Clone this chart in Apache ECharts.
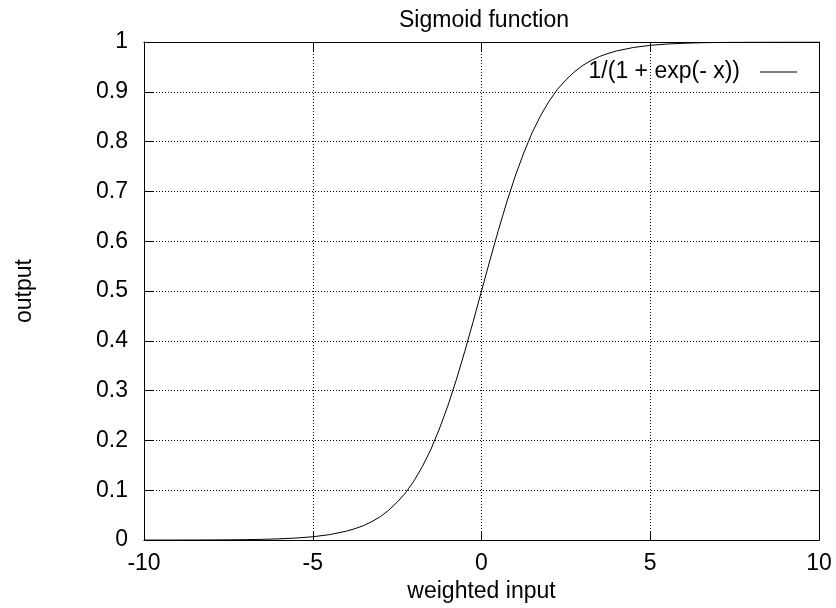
<!DOCTYPE html>
<html><head><meta charset="utf-8">
<script src="https://cdn.jsdelivr.net/npm/echarts@6/dist/echarts.min.js"></script>
<style>html,body{margin:0;padding:0;background:#fff}#c{width:836px;height:608px}</style>
</head><body><div id="c"></div>
<script>
const xValues = [-10,-9.5,-9,-8.5,-8,-7.5,-7,-6.5,-6,-5.5,-5,-4.5,-4,-3.75,-3.5,-3.25,-3,-2.75,-2.5,-2.25,-2,-1.75,-1.5,-1.25,-1,-0.75,-0.5,-0.25,0,0.25,0.5,0.75,1,1.25,1.5,1.75,2,2.25,2.5,2.75,3,3.25,3.5,3.75,4,4.5,5,5.5,6,6.5,7,7.5,8,8.5,9,9.5,10];
const yValues = [0.00005,0.00007,0.00012,0.0002,0.00034,0.00055,0.0009,0.0015,0.0025,0.0041,0.0067,0.011,0.018,0.023,0.029,0.037,0.047,0.060,0.076,0.095,0.119,0.148,0.182,0.223,0.269,0.321,0.378,0.438,0.5,0.562,0.622,0.679,0.731,0.777,0.818,0.852,0.881,0.905,0.924,0.940,0.953,0.963,0.971,0.977,0.982,0.989,0.9933,0.9959,0.9975,0.9985,0.9991,0.99945,0.99966,0.9998,0.99988,0.99993,0.99995];
const seriesName = '1/(1 + exp(- x))';
const titleText = 'Sigmoid function';
const xName = 'weighted input';
const yName = 'output';

const font = 'Liberation Sans, Arial, sans-serif';
const fs = 23;
const chart = echarts.init(document.getElementById('c'), null, {renderer:'canvas'});
const gridLine = {show:true, lineStyle:{color:'#000', type:[1,2], width:1}};
const axisL = {show:true, onZero:false, lineStyle:{color:'#000', width:1}};
const tick = {show:true, inside:true, length:9, lineStyle:{color:'#000'}};
chart.setOption({
  animation:false,
  backgroundColor:'#fff',
  title:{text:titleText, left:394, top:4, textStyle:{fontFamily:font, fontSize:fs, fontWeight:'normal', color:'#000'}},
  legend:{right:39, top:60, padding:0, align:'right', itemWidth:37, itemHeight:1, itemGap:10,
    textStyle:{fontFamily:font, fontSize:fs, lineHeight:24, color:'#000', padding:[0,15,0,0]},
    data:[{name:seriesName, icon:'rect', itemStyle:{color:'#000'}}]},
  grid:{left:144, right:17, top:42, bottom:65},
  xAxis:[{type:'value', min:-10, max:10, interval:5, name:xName, nameLocation:'middle', nameGap:36,
      nameTextStyle:{fontFamily:font, fontSize:fs, color:'#000'},
      axisLine:axisL, axisTick:tick, splitLine:gridLine,
      axisLabel:{fontFamily:font, fontSize:fs, color:'#000', margin:12}},
    {type:'value', position:'top', min:-10, max:10, interval:5, axisLine:axisL, axisTick:tick, axisLabel:{show:false}, splitLine:{show:false}}],
  yAxis:[{type:'value', min:0, max:1, interval:0.1, name:yName, nameLocation:'middle', nameGap:108,
      nameTextStyle:{fontFamily:font, fontSize:fs, color:'#000'},
      axisLine:axisL, axisTick:tick, splitLine:gridLine,
      axisLabel:{fontFamily:font, fontSize:fs, color:'#000', margin:16, formatter:v=>String(+v.toFixed(1))}},
    {type:'value', position:'right', min:0, max:1, interval:0.1, axisLine:axisL, axisTick:tick, axisLabel:{show:false}, splitLine:{show:false}}],
  series:[{name:seriesName, type:'line', showSymbol:false, smooth:false,
    data:xValues.map((x,i)=>[x,yValues[i]]),
    lineStyle:{color:'#000', width:1}, itemStyle:{color:'#000'}}]
});
</script></body></html>
